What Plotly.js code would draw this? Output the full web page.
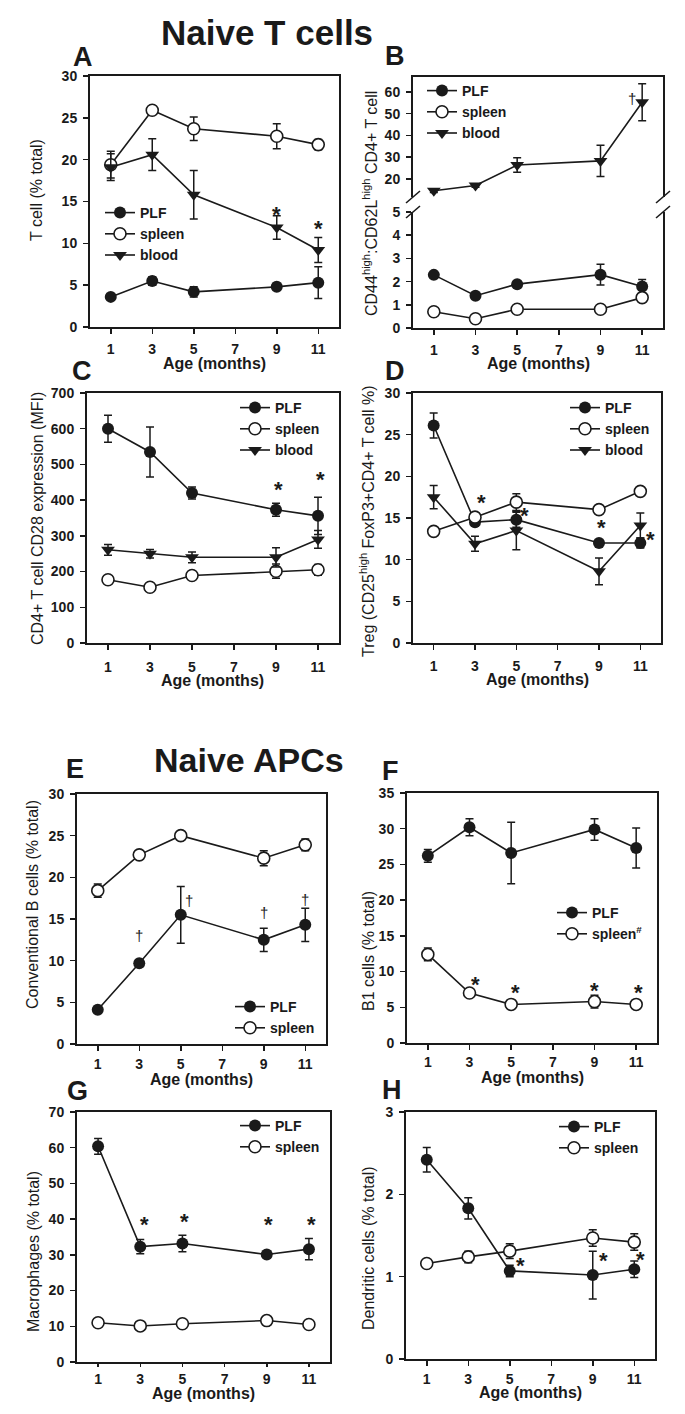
<!DOCTYPE html>
<html>
<head>
<meta charset="utf-8">
<script src="https://cdn.plot.ly/plotly-3.0.1.min.js"></script>
<style>
  body { margin: 0; background: #fff; }
  #chart { width: 685px; height: 1414px; }
</style>
</head>
<body>
<div id="chart"></div>
<script>
// ages sampled (months)
const ages = [1, 3, 5, 9, 11];
const ageTicks = [1, 3, 5, 7, 9, 11];

// A - T cell (% total)
const aPLF = [3.6, 5.5, 4.2, 4.8, 5.3];
const aPLFErr = [0.3, 0.5, 0.6, 0.4, 1.9];
const aSpleen = [19.4, 25.9, 23.7, 22.8, 21.8];
const aSpleenErr = [1.6, 0.3, 1.4, 1.5, 0.6];
const aBlood = [19.1, 20.6, 15.8, 11.9, 9.2];
const aBloodErr = [1.6, 1.9, 2.9, 1.4, 1.5];
const aStarX = [9, 11];
const aStarY = [13.9, 12.3];

// B - CD44high:CD62Lhigh CD4+ T cell
const bPLF = [2.29, 1.39, 1.89, 2.3, 1.79];
const bPLFErr = [0.05, 0.1, 0.1, 0.45, 0.3];
const bSpleen = [0.7, 0.4, 0.81, 0.81, 1.31];
const bSpleenErr = [0.05, 0.05, 0.05, 0.05, 0.05];
const bBlood = [14.6, 17.0, 26.4, 28.3, 55.3];
const bBloodErr = [0.8, 0.8, 3.3, 7.2, 8.5];
const bDaggerX = [10.5];
const bDaggerY = [57];

// C - CD4+ T cell CD28 expression (MFI)
const cPLF = [600, 535, 420, 373, 356];
const cPLFErr = [38, 70, 17, 18, 52];
const cSpleen = [177, 156, 189, 201, 205];
const cSpleenErr = [5, 5, 5, 20, 15];
const cBlood = [261, 250, 240, 240, 290];
const cBloodErr = [15, 12, 15, 27, 25];
const cStarX = [9.1, 11.1];
const cStarY = [440, 468];

// D - Treg
const dPLF = [26.1, 14.5, 14.8, 12.0, 12.0];
const dPLFErr = [1.5, 0.4, 0.9, 0.3, 0.6];
const dSpleen = [13.4, 15.1, 16.9, 16.0, 18.2];
const dSpleenErr = [0.3, 0.3, 1.0, 0.3, 0.4];
const dBlood = [17.5, 11.9, 13.5, 8.6, 14.1];
const dBloodErr = [1.4, 0.9, 2.3, 1.6, 1.5];
const dStarX = [3.3, 5.4, 9.1, 11.5];
const dStarY = [17.4, 15.8, 14.3, 12.9];

// E - Conventional B cells
const ePLF = [4.1, 9.7, 15.5, 12.5, 14.3];
const ePLFErr = [0.3, 0.4, 3.4, 1.4, 2.0];
const eSpleen = [18.4, 22.7, 25.0, 22.3, 23.9];
const eSpleenErr = [0.8, 0.3, 0.4, 0.9, 0.7];
const eDaggerX = [3, 5.4, 9, 11];
const eDaggerY = [13.0, 17.2, 15.8, 17.3];

// F - B1 cells
const fPLF = [26.2, 30.2, 26.6, 29.9, 27.3];
const fPLFErr = [0.9, 1.2, 4.3, 1.5, 2.8];
const fSpleen = [12.4, 7.0, 5.4, 5.8, 5.4];
const fSpleenErr = [0.9, 0.3, 0.3, 0.9, 0.3];
const fStarX = [3.3, 5.2, 9, 11.1];
const fStarY = [8.8, 7.6, 7.9, 7.6];

// G - Macrophages
const gPLF = [60.4, 32.3, 33.2, 30.1, 31.6];
const gPLFErr = [2.2, 2.0, 2.3, 0.8, 3.0];
const gSpleen = [11.0, 10.1, 10.7, 11.6, 10.5];
const gSpleenErr = [0.5, 0.5, 0.5, 0.5, 0.5];
const gStarX = [3.2, 5.1, 9.1, 11.1];
const gStarY = [39.5, 40.6, 39.5, 39.5];

// H - Dendritic cells
const hPLF = [2.42, 1.83, 1.07, 1.02, 1.09];
const hPLFErr = [0.15, 0.13, 0.07, 0.29, 0.1];
const hSpleen = [1.16, 1.24, 1.31, 1.47, 1.42];
const hSpleenErr = [0.03, 0.07, 0.09, 0.1, 0.1];
const hStarX = [5.5, 9.5, 11.3];
const hStarY = [1.18, 1.25, 1.26];

const FONT = 'Liberation Sans, Arial, Helvetica, sans-serif';
const INK = '#1a1a1a';
const W = 685, H = 1414;
const px = v => v / W;
const py = v => 1 - v / H;

const markerStyle = {
  PLF: { symbol: 'circle', size: 12, color: INK },
  spleen: { symbol: 'circle', size: 12, color: '#fff', line: { color: INK, width: 1.6 } },
  blood: { symbol: 'triangle-down', size: 12, color: INK }
};

function series(y, err, kind, name, xa, ya, lg) {
  return {
    x: ages, y: y, name: name, type: 'scatter', mode: 'lines+markers',
    xaxis: xa, yaxis: ya, legend: lg,
    line: { color: INK, width: 1.6 },
    marker: markerStyle[kind],
    error_y: { type: 'data', array: err, visible: true, color: INK, thickness: 1.5, width: 4 }
  };
}

const data = [
  series(aPLF, aPLFErr, 'PLF', 'PLF', 'x', 'y', 'legend'),
  series(aSpleen, aSpleenErr, 'spleen', 'spleen', 'x', 'y', 'legend'),
  series(aBlood, aBloodErr, 'blood', 'blood', 'x', 'y', 'legend'),

  series(bPLF, bPLFErr, 'PLF', 'PLF', 'x2', 'y2', 'legend2'),
  series(bSpleen, bSpleenErr, 'spleen', 'spleen', 'x2', 'y2', 'legend2'),
  series(bBlood, bBloodErr, 'blood', 'blood', 'x3', 'y3', 'legend2'),

  series(cPLF, cPLFErr, 'PLF', 'PLF', 'x4', 'y4', 'legend3'),
  series(cSpleen, cSpleenErr, 'spleen', 'spleen', 'x4', 'y4', 'legend3'),
  series(cBlood, cBloodErr, 'blood', 'blood', 'x4', 'y4', 'legend3'),

  series(dPLF, dPLFErr, 'PLF', 'PLF', 'x5', 'y5', 'legend4'),
  series(dSpleen, dSpleenErr, 'spleen', 'spleen', 'x5', 'y5', 'legend4'),
  series(dBlood, dBloodErr, 'blood', 'blood', 'x5', 'y5', 'legend4'),

  series(ePLF, ePLFErr, 'PLF', 'PLF', 'x6', 'y6', 'legend5'),
  series(eSpleen, eSpleenErr, 'spleen', 'spleen', 'x6', 'y6', 'legend5'),

  series(fPLF, fPLFErr, 'PLF', 'PLF', 'x7', 'y7', 'legend6'),
  series(fSpleen, fSpleenErr, 'spleen', 'spleen<sup>#</sup>', 'x7', 'y7', 'legend6'),

  series(gPLF, gPLFErr, 'PLF', 'PLF', 'x8', 'y8', 'legend7'),
  series(gSpleen, gSpleenErr, 'spleen', 'spleen', 'x8', 'y8', 'legend7'),

  series(hPLF, hPLFErr, 'PLF', 'PLF', 'x9', 'y9', 'legend8'),
  series(hSpleen, hSpleenErr, 'spleen', 'spleen', 'x9', 'y9', 'legend8')
];

const tickFont = { family: FONT, size: 14, color: INK, weight: 'bold' };

function xAxis(x0, x1, anchor, extra) {
  return Object.assign({
    domain: [px(x0), px(x1)], anchor: anchor, range: [0, 12],
    tickvals: ageTicks, ticks: 'outside', ticklen: 5, tickwidth: 1.5, tickcolor: INK,
    ticklabelstandoff: 3,
    showline: true, linewidth: 2, linecolor: INK, mirror: true,
    showgrid: false, zeroline: false, tickfont: tickFont, fixedrange: true
  }, extra || {});
}

function yAxis(y0, y1, anchor, range, dtick, extra) {
  return Object.assign({
    domain: [py(y1), py(y0)], anchor: anchor, range: range, dtick: dtick, tick0: 0,
    ticks: 'outside', ticklen: 5, tickwidth: 1.5, tickcolor: INK,
    ticklabelstandoff: 3,
    showline: true, linewidth: 2, linecolor: INK, mirror: true,
    showgrid: false, zeroline: false, tickfont: tickFont, fixedrange: true
  }, extra || {});
}

function legendAt(x, y) {
  return {
    x: px(x), y: py(y), xanchor: 'left', yanchor: 'top',
    bgcolor: 'rgba(0,0,0,0)', borderwidth: 0, tracegroupgap: 0,
    font: { family: FONT, size: 14, color: INK, weight: 'bold' },
    itemwidth: 30
  };
}

const annotations = [];

function note(text, x, y, size, opts) {
  annotations.push(Object.assign({
    xref: 'paper', yref: 'paper', x: px(x), y: py(y), text: text,
    showarrow: false, xanchor: 'center', yanchor: 'middle',
    font: { family: FONT, size: size, color: INK }
  }, opts || {}));
}

function marks(xs, ys, sym, xa, ya, size) {
  const star = sym === '*';
  xs.forEach((xv, i) => {
    annotations.push({
      xref: xa, yref: ya, x: xv, y: ys[i], text: sym, showarrow: false,
      xanchor: 'center', yanchor: 'middle', yshift: star ? -4 : 0,
      font: { family: FONT, size: size, color: INK, weight: star ? 'bold' : 'normal' }
    });
  });
}

// headings
note('<b>Naive T cells</b>', 267, 33, 35);
note('<b>Naive APCs</b>', 249, 760, 34);

// panel letters
note('<b>A</b>', 83, 57, 27);
note('<b>B</b>', 395, 56, 27);
note('<b>C</b>', 82, 371, 27);
note('<b>D</b>', 395, 371, 27);
note('<b>E</b>', 75, 769, 27);
note('<b>F</b>', 390, 771, 27);
note('<b>G</b>', 77, 1091, 27);
note('<b>H</b>', 392, 1090, 27);

// y titles
const rot = { textangle: -90 };
note('T cell (% total)', 37, 190, 16, rot);
note('CD44<sup>high</sup>:CD62L<sup>high</sup> CD4+ T cell', 370, 204, 16, rot);
note('CD4+ T cell CD28 expression (MFI)', 37, 519, 16, rot);
note('Treg (CD25<sup>high</sup> FoxP3+CD4+ T cell %)', 367, 521, 16, rot);
note('Conventional B cells (% total)', 33, 905, 16, rot);
note('B1 cells (% total)', 368, 951, 16, rot);
note('Macrophages (% total)', 33, 1252, 16, rot);
note('Dendritic cells (% total)', 368, 1248, 16, rot);

// x titles
const bold = { font: { family: FONT, size: 16, color: INK, weight: 'bold' } };
note('Age (months)', 214, 363, 16, bold);
note('Age (months)', 538, 363, 16, bold);
note('Age (months)', 213, 681, 16, bold);
note('Age (months)', 537, 679, 16, bold);
note('Age (months)', 201, 1079, 16, bold);
note('Age (months)', 532, 1077, 16, bold);
note('Age (months)', 203, 1393, 16, bold);
note('Age (months)', 530, 1392, 16, bold);

// significance marks
marks(aStarX, aStarY, '*', 'x', 'y', 22);
marks(bDaggerX, bDaggerY, '†', 'x3', 'y3', 15);
marks(cStarX, cStarY, '*', 'x4', 'y4', 22);
marks(dStarX, dStarY, '*', 'x5', 'y5', 22);
marks(eDaggerX, eDaggerY, '†', 'x6', 'y6', 15);
marks(fStarX, fStarY, '*', 'x7', 'y7', 22);
marks(gStarX, gStarY, '*', 'x8', 'y8', 22);
marks(hStarX, hStarY, '*', 'x9', 'y9', 22);

// axis break marks for panel B
const shapes = [];
[413, 663].forEach(cx => {
  [197, 212].forEach(cy => {
    shapes.push({
      type: 'line', xref: 'paper', yref: 'paper',
      x0: px(cx - 7), y0: py(cy + 6), x1: px(cx + 7), y1: py(cy - 6),
      line: { color: INK, width: 1.6 }
    });
  });
});

const layout = {
  width: W, height: H,
  margin: { l: 0, r: 0, t: 0, b: 0 },
  paper_bgcolor: '#fff', plot_bgcolor: 'rgba(0,0,0,0)',
  font: { family: FONT, color: INK },
  showlegend: true,

  xaxis: xAxis(90, 339, 'y'),
  yaxis: yAxis(76, 327, 'x', [0, 30], 5),

  xaxis2: xAxis(413, 663, 'y2', { mirror: false }),
  yaxis2: yAxis(212, 328, 'x2', [0, 5], 1),
  xaxis3: xAxis(413, 663, 'y3', { matches: 'x2', side: 'top', mirror: false, ticks: '', showticklabels: false }),
  yaxis3: yAxis(77, 197, 'x3', [11.7, 66.9], 10, { tickvals: [20, 30, 40, 50, 60] }),

  xaxis4: xAxis(87, 339, 'y4', { ticklabelstandoff: 5 }),
  yaxis4: yAxis(393, 643, 'x4', [0, 700], 100),

  xaxis5: xAxis(413, 661, 'y5', { ticklabelstandoff: 4 }),
  yaxis5: yAxis(393, 643, 'x5', [0, 30], 5),

  xaxis6: xAxis(77, 326, 'y6', { ticklabelstandoff: 1 }),
  yaxis6: yAxis(794, 1044, 'x6', [0, 30], 5),

  xaxis7: xAxis(407, 657, 'y7', { ticklabelstandoff: 0 }),
  yaxis7: yAxis(793, 1043, 'x7', [0, 35], 5),

  xaxis8: xAxis(77, 330, 'y8', { ticklen: 3, ticklabelstandoff: 0 }),
  yaxis8: yAxis(1112, 1362, 'x8', [0, 70], 10),

  xaxis9: xAxis(406, 655, 'y9', { ticklabelstandoff: 1 }),
  yaxis9: yAxis(1112, 1359, 'x9', [0, 3], 1),

  legend: legendAt(100, 197),
  legend2: legendAt(422, 75),
  legend3: legendAt(235, 392),
  legend4: legendAt(565, 392),
  legend5: legendAt(230, 991),
  legend6: legendAt(552, 897),
  legend7: legendAt(235, 1110),
  legend8: legendAt(554, 1111),

  annotations: annotations,
  shapes: shapes
};

Plotly.newPlot('chart', data, layout, { staticPlot: true, displayModeBar: false });
</script>
</body>
</html>
